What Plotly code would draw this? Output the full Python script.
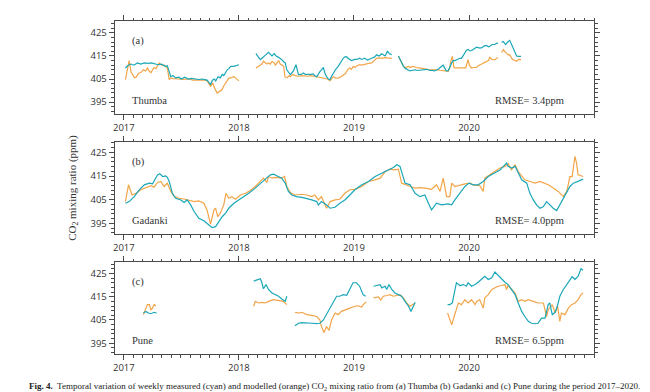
import plotly.graph_objects as go
import pandas as pd

# ---------------- DATA (decimal year, ppm); None = data gap ----------------
thumba_meas_t = [2017.014, 2017.04, 2017.065, 2017.09, 2017.12, 2017.15, 2017.18, 2017.21, 2017.24, 2017.27, 2017.30, 2017.33, 2017.36, 2017.38, 2017.395, 2017.41, 2017.43, 2017.45, 2017.48, 2017.50, 2017.53, 2017.56, 2017.59, 2017.62, 2017.65, 2017.68, 2017.71, 2017.726, 2017.741, 2017.755, 2017.77, 2017.79, 2017.80, 2017.82, 2017.84, 2017.856, 2017.87, 2017.885, 2017.90, 2017.914, 2017.93, 2017.957, 2017.985, 2018.0,
                 None,
                 2018.150, 2018.165, 2018.187, 2018.20, 2018.216, 2018.235, 2018.259, 2018.275, 2018.288, 2018.308, 2018.325, 2018.346, 2018.36, 2018.375, 2018.39, 2018.403, 2018.418, 2018.435, 2018.447, 2018.46, 2018.476, 2018.496, 2018.51, 2018.519, 2018.54, 2018.562, 2018.58, 2018.605, 2018.625, 2018.648, 2018.66, 2018.677, 2018.69, 2018.706, 2018.72, 2018.735, 2018.75, 2018.764, 2018.78, 2018.793, 2018.805, 2018.821, 2018.84, 2018.865, 2018.88, 2018.908, 2018.92, 2018.937, 2018.95, 2018.965, 2018.98, 2019.009, 2019.03, 2019.052, 2019.07, 2019.095, 2019.12, 2019.156, 2019.18, 2019.199, 2019.22, 2019.243, 2019.26, 2019.272, 2019.292, 2019.31, 2019.329,
                 None,
                 2019.387, 2019.40, 2019.415, 2019.431, 2019.45, 2019.474, 2019.49, 2019.51, 2019.532, 2019.55, 2019.575, 2019.595, 2019.618, 2019.64, 2019.66, 2019.676, 2019.70, 2019.72, 2019.734, 2019.75, 2019.763, 2019.777, 2019.792, 2019.805, 2019.821, 2019.835, 2019.850, 2019.865, 2019.879, 2019.90, 2019.92, 2019.936, 2019.95, 2019.965, 2019.98, 2019.994, 2020.01, 2020.023, 2020.04, 2020.066, 2020.085, 2020.11, 2020.13, 2020.153, 2020.17, 2020.182, 2020.20, 2020.225, 2020.24, 2020.254,
                 None,
                 2020.283, 2020.298, 2020.31, 2020.318, 2020.335, 2020.355, 2020.37, 2020.384, 2020.40, 2020.413, 2020.43, 2020.451]
thumba_meas_v = [409.8, 411, 411.5, 411, 412, 411.5, 412, 411.8, 412, 411.5, 411.2, 411.5, 410.5, 410.8, 407.6, 406, 406.5, 405.5, 405.8, 405, 405.8, 405, 405.3, 405, 404.8, 405, 404.8, 404.5, 403.5, 402.5, 404.5, 405, 404, 406, 405.5, 407, 406.5, 408, 409, 409.5, 410.5, 410.5, 411, 411.2,
                 None,
                 416, 415, 413.4, 414, 414.5, 415.5, 416.6, 415.5, 415, 416, 415, 414.4, 414, 413.4, 412.5, 412, 409, 407.5, 406.9, 407.5, 408.5, 411.2, 408, 406.9, 407, 407.6, 407, 406.9, 407, 407.2, 406.5, 406, 407, 408.2, 409, 410, 407.5, 406, 405, 404.7, 406, 407.6, 409, 410.5, 412, 414, 414.5, 414.7, 414, 413.6, 413, 413.5, 413.5, 414, 413.5, 414, 413.2, 414, 414.5, 415.5, 415, 416, 415.5, 415, 417, 416, 415.5,
                 None,
                 415, 413.5, 412, 410.5, 409.5, 409, 408.5, 408.8, 409, 408.7, 408.8, 409, 408.8, 409.2, 408.7, 408.8, 408.5, 409, 409.2, 410, 410.5, 411, 409.5, 408.5, 408.6, 410.5, 412, 413, 413, 413.5, 414, 414, 415, 416.5, 417.5, 417.8, 417.2, 417.4, 418, 418.8, 418.5, 418.5, 419.3, 419.6, 419, 419.2, 420, 420, 420.5, 420.6,
                 None,
                 421, 421.2, 420.5, 420, 421, 421.8, 420, 418.5, 416.5, 415, 414.8, 414.8]

thumba_model_t = [2017.014, 2017.049, 2017.065, 2017.078, 2017.095, 2017.107, 2017.13, 2017.15, 2017.17, 2017.19, 2017.207, 2017.22, 2017.236, 2017.25, 2017.265, 2017.28, 2017.308, 2017.33, 2017.352, 2017.37, 2017.38, 2017.395, 2017.41, 2017.43, 2017.45, 2017.48, 2017.51, 2017.54, 2017.57, 2017.60, 2017.63, 2017.66, 2017.69, 2017.726, 2017.74, 2017.755, 2017.775, 2017.79, 2017.813, 2017.83, 2017.856, 2017.87, 2017.885, 2017.914, 2017.93, 2017.957, 2017.97, 2017.986, 2018.0,
                  None,
                  2018.150, 2018.17, 2018.187, 2018.20, 2018.216, 2018.23, 2018.245, 2018.259, 2018.275, 2018.29, 2018.308, 2018.32, 2018.335, 2018.346, 2018.36, 2018.375, 2018.39, 2018.40, 2018.42, 2018.44, 2018.447, 2018.47, 2018.49, 2018.52, 2018.55, 2018.575, 2018.60, 2018.63, 2018.66, 2018.69, 2018.72, 2018.75, 2018.77, 2018.793, 2018.81, 2018.821, 2018.84, 2018.865, 2018.89, 2018.908, 2018.93, 2018.937, 2018.95, 2018.965, 2018.98, 2018.995, 2019.01, 2019.03, 2019.05, 2019.07, 2019.098, 2019.13, 2019.156, 2019.18, 2019.199, 2019.22, 2019.243, 2019.27, 2019.30, 2019.329,
                  None,
                  2019.387, 2019.40, 2019.415, 2019.431, 2019.45, 2019.474, 2019.49, 2019.51, 2019.532, 2019.555, 2019.575, 2019.60, 2019.618, 2019.64, 2019.66, 2019.676, 2019.70, 2019.72, 2019.734, 2019.75, 2019.77, 2019.792, 2019.805, 2019.821, 2019.835, 2019.843, 2019.855, 2019.862, 2019.870, 2019.879, 2019.90, 2019.92, 2019.936, 2019.96, 2019.975, 2019.98, 2019.994, 2020.005, 2020.023, 2020.04, 2020.066, 2020.08, 2020.10, 2020.11, 2020.13, 2020.153, 2020.17, 2020.182, 2020.20, 2020.225, 2020.24, 2020.254,
                  None,
                  2020.283, 2020.298, 2020.31, 2020.326, 2020.34, 2020.355, 2020.37, 2020.384, 2020.40, 2020.413, 2020.43, 2020.451]
thumba_model_v = [404.7, 413, 408, 406.9, 405.5, 405.8, 407.5, 407.8, 409, 408.5, 409.8, 408.5, 407.7, 409, 410, 409.5, 412, 411, 411, 410, 409.8, 404.7, 405.5, 405.2, 405, 405, 404.8, 404.8, 405, 404.5, 404.6, 404.7, 404.6, 404.3, 403, 401.8, 403.3, 401, 398.9, 399.5, 400.4, 402, 403.3, 405.4, 405.5, 406, 405.5, 404.7, 404.2,
                  None,
                  409.8, 410.5, 411.2, 411.5, 412.7, 412, 411.5, 412, 411.5, 412.7, 412, 411, 412.3, 413, 411.5, 411, 410.5, 406, 405.5, 406.5, 406, 407, 406.5, 406.2, 406.5, 406.4, 406.2, 406.5, 406.2, 405.8, 405.5, 405.4, 405, 404.3, 405.5, 406, 405.5, 405.4, 406, 406.9, 407.5, 408.4, 409.2, 409.8, 409.2, 410.5, 410, 410.8, 411.2, 411, 411.5, 411.8, 412, 413, 414, 414.2, 414, 414.3, 414, 414,
                  None,
                  415, 413.5, 412, 410.5, 410, 410.5, 410, 410.5, 410.2, 409.8, 409.8, 409.5, 409.3, 409.2, 409, 409, 409.1, 409, 409, 408.8, 408.6, 408.3, 408.5, 408.3, 410, 412.7, 414.8, 413, 410, 409.8, 409.8, 409.8, 409.8, 410, 409.8, 411, 413.4, 411, 409.8, 410, 410, 410.8, 411.5, 411.5, 412, 412.7, 413, 414.4, 413.5, 413.4, 414, 414.4,
                  None,
                  416.5, 417.8, 417, 416.3, 415.5, 415.6, 414, 413.4, 413, 412.7, 413.5, 413.4]

gadanki_meas_t = [2017.014, 2017.049, 2017.092, 2017.135, 2017.179, 2017.222, 2017.251, 2017.274, 2017.294, 2017.314, 2017.337, 2017.366, 2017.380, 2017.395, 2017.424, 2017.452, 2017.496, 2017.524, 2017.553, 2017.582, 2017.611, 2017.654, 2017.697, 2017.741, 2017.769, 2017.798, 2017.827, 2017.856, 2017.885, 2017.914, 2017.957, 2018.0, 2018.029, 2018.086, 2018.144, 2018.187, 2018.231, 2018.274, 2018.303, 2018.331, 2018.375, 2018.403, 2018.432, 2018.461, 2018.504, 2018.548, 2018.591, 2018.634, 2018.677, 2018.692, 2018.720, 2018.764, 2018.793, 2018.836, 2018.879, 2018.922, 2018.965, 2019.009, 2019.069, 2019.127, 2019.185, 2019.243, 2019.301, 2019.344, 2019.373, 2019.402, 2019.416, 2019.445, 2019.488, 2019.532, 2019.575, 2019.618, 2019.647, 2019.676, 2019.720, 2019.763, 2019.821, 2019.850, 2019.879, 2019.922, 2019.965, 2020.0, 2020.038, 2020.081, 2020.124, 2020.168, 2020.225, 2020.269, 2020.298, 2020.327, 2020.341, 2020.370, 2020.399, 2020.428, 2020.457, 2020.500, 2020.529, 2020.558, 2020.587, 2020.616, 2020.645, 2020.673, 2020.702, 2020.731, 2020.760, 2020.789, 2020.818, 2020.847, 2020.876, 2020.905, 2020.948, 2020.991]
gadanki_meas_v = [403.5, 404.2, 406.3, 409.2, 411.3, 412, 411.7, 413.7, 415.5, 416, 414.8, 415.1, 414.5, 412.7, 407.7, 405.6, 404.9, 403.8, 404.9, 402.8, 400, 397.1, 396.1, 394.3, 393.2, 393.6, 395.7, 397.8, 399.3, 401.4, 403.5, 404.9, 405.6, 407.7, 409.9, 412, 413.7, 415.5, 415.8, 415.1, 414.1, 412, 408.5, 407, 406.3, 406, 405.6, 404.9, 404.2, 402.8, 404.2, 402.8, 401.4, 401.8, 403.5, 404.9, 407, 409.2, 411.3, 412.7, 414.8, 416.2, 417.6, 418.6, 419.8, 419.1, 416.9, 412, 411.3, 407.7, 406.3, 407, 403.5, 400.7, 403.5, 402.8, 403.2, 402.8, 404.9, 407.7, 410.6, 412, 411.3, 411.3, 412.7, 414.8, 416.2, 417.6, 419.1, 420.5, 419.1, 418.4, 419.1, 416.2, 413.4, 412, 407.7, 404.9, 402.8, 401.4, 402.1, 404.2, 402.8, 401.4, 400.4, 402.8, 405.6, 407.7, 410.6, 412, 412.7, 413.7]

gadanki_model_t = [2017.014, 2017.043, 2017.072, 2017.107, 2017.150, 2017.193, 2017.236, 2017.265, 2017.294, 2017.323, 2017.352, 2017.380, 2017.409, 2017.438, 2017.481, 2017.524, 2017.568, 2017.611, 2017.654, 2017.697, 2017.726, 2017.755, 2017.784, 2017.798, 2017.818, 2017.841, 2017.870, 2017.890, 2017.914, 2017.942, 2017.971, 2018.014, 2018.058, 2018.101, 2018.144, 2018.187, 2018.216, 2018.245, 2018.259, 2018.288, 2018.317, 2018.375, 2018.398, 2018.418, 2018.447, 2018.490, 2018.548, 2018.591, 2018.634, 2018.663, 2018.692, 2018.720, 2018.764, 2018.793, 2018.836, 2018.879, 2018.922, 2018.965, 2019.009, 2019.069, 2019.127, 2019.185, 2019.228, 2019.272, 2019.315, 2019.358, 2019.387, 2019.416, 2019.445, 2019.488, 2019.532, 2019.575, 2019.618, 2019.676, 2019.720, 2019.749, 2019.777, 2019.806, 2019.835, 2019.850, 2019.879, 2019.922, 2019.965, 2020.009, 2020.038, 2020.095, 2020.124, 2020.139, 2020.182, 2020.225, 2020.269, 2020.312, 2020.341, 2020.370, 2020.399, 2020.428, 2020.457, 2020.486, 2020.529, 2020.572, 2020.616, 2020.659, 2020.688, 2020.731, 2020.775, 2020.818, 2020.847, 2020.876, 2020.896, 2020.919, 2020.934, 2020.948, 2020.991]
gadanki_model_v = [404.2, 411.3, 407, 407.7, 409.2, 409.9, 410.9, 410.3, 412.3, 412.7, 410.6, 412, 408.5, 406.6, 405.6, 405.3, 404.9, 404.2, 404.5, 403.5, 400.7, 394.7, 400.7, 401.4, 397.8, 399.3, 402.8, 407.7, 405.6, 406.3, 405.2, 407, 407.7, 408.9, 410.6, 412.7, 414.1, 412.3, 414.8, 414.1, 414.4, 414.1, 414.8, 410.6, 408, 407, 407.3, 407, 406.3, 407, 404.9, 406.3, 401.4, 404.2, 404.9, 405.2, 407.7, 409.2, 409.4, 410.6, 412.7, 413.4, 414.1, 416.9, 417.9, 417.6, 417.9, 412, 411.3, 410.6, 409.9, 410.1, 409.9, 409.4, 411.3, 408.5, 414.1, 406.3, 406.3, 412, 410.6, 411.3, 411.7, 412, 411.3, 410.9, 408.5, 414.1, 415.5, 416.9, 418.4, 419.1, 420.2, 417.6, 419.8, 416.9, 414.8, 413.4, 412.7, 412, 412.7, 412, 411.3, 409.9, 408.5, 406.3, 408.5, 414.8, 414.8, 423.3, 420.5, 415.5, 414.8]

pune_meas_t = [2017.170, 2017.193, 2017.216, 2017.236, 2017.265, 2017.285,
               None,
               2018.130, 2018.159, 2018.187, 2018.202, 2018.216, 2018.236, 2018.259, 2018.288, 2018.317, 2018.346, 2018.375, 2018.403, 2018.418,
               None,
               2018.490, 2018.519, 2018.548, 2018.591, 2018.634, 2018.677, 2018.706, 2018.735, 2018.764, 2018.793, 2018.821, 2018.850, 2018.879, 2018.908, 2018.937, 2018.965, 2018.994, 2019.023, 2019.052, 2019.081, 2019.104,
               None,
               2019.171, 2019.199, 2019.228, 2019.243, 2019.272, 2019.286, 2019.306, 2019.329, 2019.358, 2019.387, 2019.416, 2019.445, 2019.474, 2019.497, 2019.517, 2019.532,
               None,
               2019.815, 2019.835, 2019.855, 2019.873, 2019.893, 2019.922, 2019.951, 2019.980, 2019.994, 2020.023, 2020.052, 2020.081, 2020.110, 2020.139, 2020.168, 2020.197, 2020.225, 2020.254, 2020.283, 2020.312, 2020.341, 2020.370, 2020.399, 2020.428, 2020.457, 2020.486, 2020.514, 2020.543, 2020.572, 2020.601, 2020.630, 2020.659, 2020.688, 2020.702, 2020.723, 2020.746, 2020.766, 2020.789, 2020.818, 2020.847, 2020.876, 2020.896, 2020.919, 2020.948, 2020.971, 2020.991]
pune_meas_v = [408, 408.7, 408, 407.7, 408.3, 408,
               None,
               421.7, 422.4, 422.7, 421, 418.4, 420.2, 418.1, 416.6, 415.9, 415.2, 414, 413, 415.2,
               None,
               402.5, 403.6, 403.9, 403.9, 403.6, 403.4, 403.6, 405, 407.3, 410.1, 412.6, 415.2, 415.2, 415.9, 415.6, 418.1, 421, 421, 419.5, 415.9, 415.2,
               None,
               419.5, 419.8, 420.2, 418.8, 419.5, 418.1, 420.2, 418.1, 416.6, 415.9, 415.2, 413, 410.9, 408.7, 410.9, 412.6,
               None,
               411.6, 411.6, 412.3, 416.6, 421, 419.8, 420.2, 419.5, 421, 419.5, 420.2, 421.2, 422.4, 423.8, 422.4, 423.1, 425.6, 424.1, 422.4, 421.2, 420.2, 418.1, 415.9, 412.3, 408.7, 406.5, 404.4, 403.6, 403.4, 403.6, 405.8, 405.8, 411.6, 412.3, 407.3, 408.3, 410.9, 415.2, 418.1, 420.2, 422.4, 423.6, 422.4, 423.8, 427, 426.4]

pune_model_t = [2017.170, 2017.187, 2017.207, 2017.222, 2017.236, 2017.251, 2017.265, 2017.280,
                None,
                2018.130, 2018.144, 2018.173, 2018.202, 2018.231, 2018.259, 2018.303, 2018.346, 2018.389, 2018.418,
                None,
                2018.490, 2018.519, 2018.548, 2018.591, 2018.634, 2018.677, 2018.706, 2018.720, 2018.741, 2018.764, 2018.784, 2018.807, 2018.836, 2018.865, 2018.893, 2018.922, 2018.965, 2019.009, 2019.037, 2019.066, 2019.095, 2019.110,
                None,
                2019.171, 2019.214, 2019.234, 2019.257, 2019.286, 2019.315, 2019.344, 2019.373, 2019.402, 2019.431, 2019.460, 2019.488, 2019.517, 2019.532,
                None,
                2019.815, 2019.835, 2019.850, 2019.873, 2019.893, 2019.908, 2019.936, 2019.965, 2019.994, 2020.023, 2020.052, 2020.066, 2020.095, 2020.124, 2020.139, 2020.168, 2020.197, 2020.225, 2020.254, 2020.283, 2020.312, 2020.327, 2020.341, 2020.370, 2020.399, 2020.428, 2020.457, 2020.486, 2020.514, 2020.558, 2020.601, 2020.645, 2020.673, 2020.688, 2020.723, 2020.746, 2020.769, 2020.789, 2020.803, 2020.832, 2020.861, 2020.890, 2020.919, 2020.948, 2020.971, 2020.991]
pune_model_v = [407.3, 409.4, 411.6, 411.6, 409.4, 410.1, 411.6, 411.1,
                None,
                410.9, 413, 412.3, 412.6, 412.3, 413, 413.7, 413.5, 413, 411.6,
                None,
                408.3, 408, 408.3, 407.3, 407, 406.5, 405, 402.2, 399.6, 402.2, 400.5, 405, 408, 407.3, 408.7, 409.4, 410.1, 410.9, 411.1, 410.6, 412.3, 412.6,
                None,
                414.5, 414.9, 413.5, 415.2, 415.5, 415.9, 415.2, 415.5, 415.9, 414.5, 412.3, 410.9, 411.6, 412.3,
                None,
                408, 405, 402.9, 406.5, 410.1, 412.3, 411.6, 413.7, 412.3, 413.7, 411.6, 413, 413.7, 410.1, 414.5, 415.9, 418.1, 418.8, 419.5, 419.8, 420.2, 418.1, 419.9, 418.1, 416.6, 413, 413.7, 413, 413.7, 413, 412.3, 412.3, 406.5, 409.4, 411.6, 408, 410.9, 404.4, 408, 407.3, 410.1, 411.6, 412.3, 413.7, 415.9, 416.6]

stations = ["Thumba", "Gadanki", "Pune"]
panel_tags = ["(a)", "(b)", "(c)"]
rmse_ppm = [3.4, 4.0, 6.5]
year_ticks = ["2017", "2018", "2019", "2020"]
y_ticks = [395, 405, 415, 425]
y_ranges = [[389.8, 430.2], [390.5, 429.4], [390.4, 429.9]]
x_range = ["2016-12-03", "2021-02-01"]
caption_text = ("<b>Fig. 4.</b>  Temporal variation of weekly measured (cyan) and modelled (orange) CO<sub>2</sub> "
                "mixing ratio from (a) Thumba (b) Gadanki and (c) Pune during the period 2017–2020.")


def to_dates(dec):
    out = []
    for d in dec:
        if d is None:
            out.append(None)
            continue
        y = int(d)
        start = pd.Timestamp(year=y, month=1, day=1)
        end = pd.Timestamp(year=y + 1, month=1, day=1)
        out.append((start + (end - start) * (d - y)).strftime("%Y-%m-%d"))
    return out


CYAN = "#1AA7B8"
ORANGE = "#F2A548"
AX = "#4a4a4a"
W, H = 650, 392

series = [
    (thumba_meas_t, thumba_meas_v, thumba_model_t, thumba_model_v),
    (gadanki_meas_t, gadanki_meas_v, gadanki_model_t, gadanki_model_v),
    (pune_meas_t, pune_meas_v, pune_model_t, pune_model_v),
]

# pixel layout of the three panels (top, bottom)
x0, x1 = 105, 586
panel_px = [(13, 106), (134, 226), (254, 346)]

fig = go.Figure()
layout = dict(
    width=W, height=H, margin=dict(l=0, r=0, t=0, b=0),
    paper_bgcolor="white", plot_bgcolor="white", showlegend=False,
    font=dict(family="Open Sans", size=9, color="#333"),
)
annotations = []
for i, (mt, mv, ot, ov) in enumerate(series):
    n = "" if i == 0 else str(i + 1)
    fig.add_trace(go.Scatter(x=to_dates(ot), y=ov, mode="lines", line=dict(color=ORANGE, width=1.2),
                             connectgaps=False, xaxis="x" + n, yaxis="y" + n))
    fig.add_trace(go.Scatter(x=to_dates(mt), y=mv, mode="lines", line=dict(color=CYAN, width=1.2),
                             connectgaps=False, xaxis="x" + n, yaxis="y" + n))
    top, bot = panel_px[i]
    layout["xaxis" + n] = dict(
        domain=[x0 / W, x1 / W], anchor="y" + n, type="date", range=x_range,
        tickvals=[f"{y}-01-01" for y in year_ticks], ticktext=year_ticks,
        ticks="outside", ticklen=5, tickwidth=1, tickcolor=AX,
        showline=True, linecolor=AX, linewidth=1, mirror="ticks", showgrid=False, zeroline=False,
        minor=dict(dtick="M1", tick0="2017-01-01", ticks="outside", ticklen=2.5, tickcolor=AX, showgrid=False),
        tickfont=dict(family="Open Sans", size=9.5, color="#333"),
    )
    layout["yaxis" + n] = dict(
        domain=[1 - bot / H, 1 - top / H], anchor="x" + n, range=y_ranges[i],
        tickvals=y_ticks, ticks="outside", ticklen=5, tickwidth=1, tickcolor=AX,
        showline=True, linecolor=AX, linewidth=1, mirror="ticks", showgrid=False, zeroline=False,
        minor=dict(dtick=2, tick0=395, ticks="outside", ticklen=2.5, tickcolor=AX, showgrid=False),
        tickfont=dict(family="Open Sans", size=9.5, color="#333"),
    )
    serif = dict(family="Liberation Serif", size=10.5, color="#333")
    annotations.append(dict(text=panel_tags[i], x=120 / W, y=1 - (top + 20) / H, xref="paper", yref="paper",
                            xanchor="left", yanchor="middle", showarrow=False, font=serif))
    annotations.append(dict(text=stations[i], x=120 / W, y=1 - (bot - 14) / H, xref="paper", yref="paper",
                            xanchor="left", yanchor="middle", showarrow=False, font=serif))
    annotations.append(dict(text=f"RMSE= {rmse_ppm[i]:.1f}ppm", x=558 / W, y=1 - (bot - 14) / H,
                            xref="paper", yref="paper", xanchor="right", yanchor="middle",
                            showarrow=False, font=serif))

annotations.append(dict(text="CO<sub>2</sub> mixing ratio (ppm)", x=63 / W, y=1 - 180 / H, xref="paper",
                        yref="paper", textangle=-90, showarrow=False, xanchor="center", yanchor="middle",
                        font=dict(family="Liberation Serif", size=11, color="#333")))
annotations.append(dict(text=caption_text, x=325 / W, y=1 - 378 / H, xref="paper", yref="paper",
                        showarrow=False, xanchor="center", yanchor="middle",
                        font=dict(family="Liberation Serif", size=9, color="#222")))
layout["annotations"] = annotations
fig.update_layout(**layout)
fig.write_html("out.html")
